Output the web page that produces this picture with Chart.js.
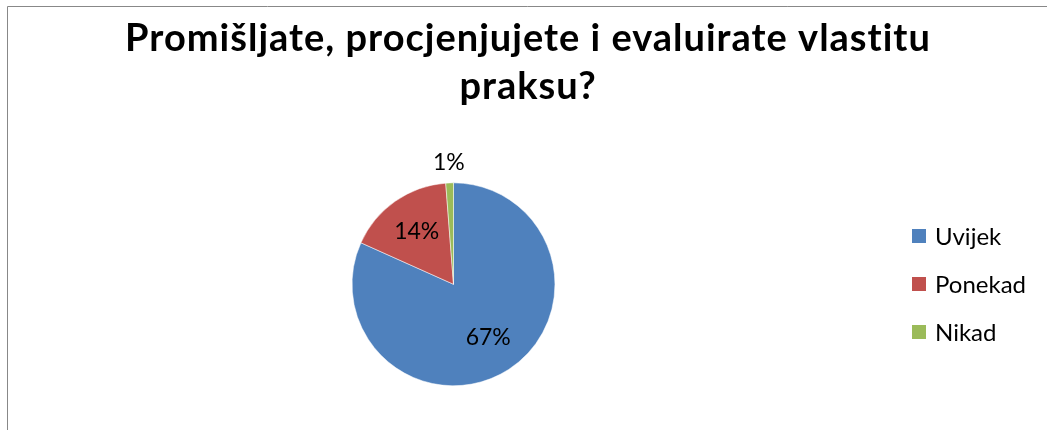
<!DOCTYPE html>
<html>
<head>
<meta charset="utf-8">
<script src="https://cdn.jsdelivr.net/npm/chart.js@4.4.1/dist/chart.umd.min.js"></script>
<style>
  html, body { margin: 0; padding: 0; background: #fff; }
  #wrap { position: relative; width: 1047px; height: 430px; }
</style>
</head>
<body>
<div id="wrap"><canvas id="pieChart" width="1047" height="430"></canvas></div>
<script>
// podaci
const naslov = ['Promišljate, procjenjujete i evaluirate vlastitu', 'praksu?'];
const kategorije = ['Uvijek', 'Ponekad', 'Nikad'];
const vrijednosti = [67, 14, 1];
const boje = ['#4F81BD', '#C0504D', '#9BBB59'];

const FONT = 'Lato, Calibri, Carlito, sans-serif';

// okvir, naslov, oznake i legenda
const dodaci = {
    id: 'dodaci',
    beforeDraw(chart) {
        const c = chart.ctx;
        c.save();
        c.strokeStyle = '#888888';
        c.lineWidth = 1;
        c.beginPath();
        c.moveTo(7.5, 430);
        c.lineTo(7.5, 6.5);
        c.lineTo(1047, 6.5);
        c.stroke();

        c.fillStyle = '#000';
        c.font = 'bold 38px ' + FONT;
        c.letterSpacing = '1px';
        c.textAlign = 'center';
        c.textBaseline = 'alphabetic';
        naslov.forEach((t, i) => c.fillText(t, 528, 51 + i * 48));
        c.restore();
    },
    afterDraw(chart) {
        const c = chart.ctx;
        const meta = chart.getDatasetMeta(0);
        c.save();
        c.fillStyle = '#000';
        c.font = '23px ' + FONT;
        c.textAlign = 'center';
        c.textBaseline = 'middle';
        meta.data.forEach((arc, i) => {
            const p = arc.getProps(['x', 'y', 'startAngle', 'endAngle', 'outerRadius']);
            const mid = (p.startAngle + p.endAngle) / 2;
            const kut = p.endAngle - p.startAngle;
            const r = kut < 0.2 ? p.outerRadius + 20 : p.outerRadius * 0.63;
            c.fillText(vrijednosti[i] + '%', p.x + Math.cos(mid) * r, p.y + Math.sin(mid) * r);
        });

        // legenda
        c.font = '24px ' + FONT;
        c.textAlign = 'left';
        kategorije.forEach((k, i) => {
            const y = 236 + i * 48;
            c.fillStyle = boje[i];
            c.fillRect(912, y - 7, 14, 14);
            c.fillStyle = '#000';
            c.fillText(k, 935, y + 1);
        });
        c.restore();
    }
};

const ctx = document.getElementById('pieChart').getContext('2d');
new Chart(ctx, {
    type: 'pie',
    data: {
        labels: kategorije,
        datasets: [{
            data: vrijednosti,
            backgroundColor: boje,
            borderColor: '#ffffff',
            borderWidth: 0.5
        }]
    },
    options: {
        responsive: false,
        animation: false,
        layout: {
            padding: { top: 182.6, bottom: 44, left: 0, right: 140 }
        },
        plugins: {
            legend: { display: false },
            tooltip: { enabled: false },
            title: { display: false }
        }
    },
    plugins: [dodaci]
});
</script>
</body>
</html>
